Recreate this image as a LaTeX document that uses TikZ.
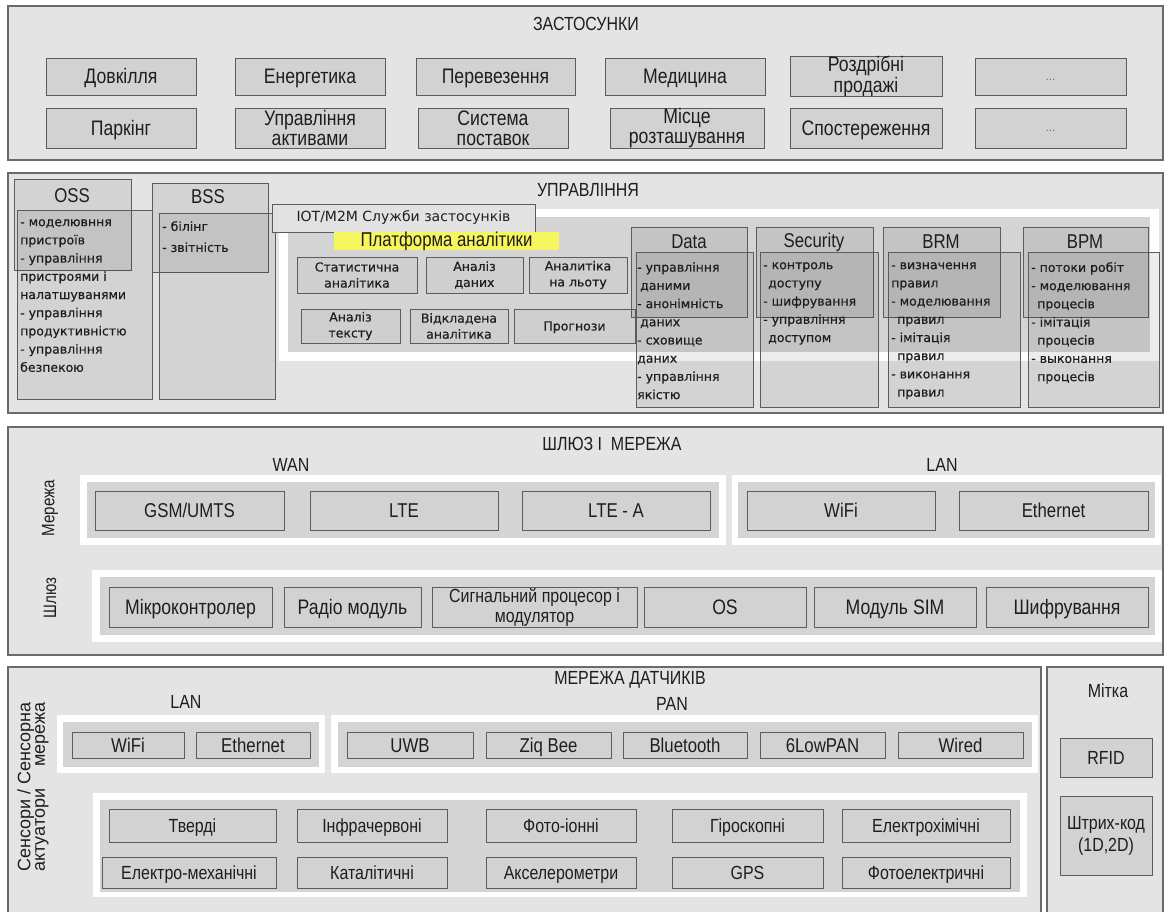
\documentclass[tikz,border=0pt]{standalone}
\usepackage{fontspec}
\setmainfont{Liberation Sans}
\newfontfamily\nrw[FakeStretch=0.84]{Liberation Sans}
\newfontfamily\vrd[FakeBold=0.5]{DejaVu Sans}
\newfontfamily\vrdr{DejaVu Sans}
\newlength\rotw

\definecolor{secbg}{HTML}{E4E4E4}
\definecolor{secln}{HTML}{6A6A6A}
\definecolor{boxbg}{HTML}{D2D2D2}
\definecolor{boxln}{HTML}{5C5C5C}
\definecolor{grpbg}{HTML}{D4D4D4}
\definecolor{anbg}{HTML}{CFCFCF}
\definecolor{iotbg}{HTML}{E2E2E2}
\definecolor{txt}{HTML}{1E1E1E}
\definecolor{dotc}{HTML}{666666}
\definecolor{hl}{HTML}{F6F65E}

\tikzset{
  section/.style={draw=secln, fill=secbg, line width=1.1pt, inner sep=0pt},
  title/.style={font=\nrw\fontsize{19}{21}\selectfont, text=txt, inner sep=0pt},
  box/.style={draw=boxln, fill=boxbg, line width=0.8pt, inner sep=0pt, align=center, text=txt},
  % multi-line labels keep their natural height
  ml/.style={text height={}, text depth={}},
  appbox/.style={box, font=\nrw\fontsize{21}{20}\selectfont, text height=15pt, text depth=0pt},
  dots/.style={box, font=\fontsize{11}{12}\selectfont, text=dotc, text height=8pt, text depth=0pt},
  grpw/.style={fill=white, inner sep=0pt},
  grpg/.style={fill=grpbg, inner sep=0pt},
  frame/.style={draw=boxln, line width=0.8pt, fill=black, fill opacity=0.075, inner sep=0pt},
  hdr/.style={font=\nrw\fontsize{20}{22}\selectfont, text=txt, inner sep=0pt},
  blk/.style={font=\vrd\fontsize{12.5}{18.2}\selectfont, text=txt, align=left, inner sep=0pt, anchor=north west},
  anbox/.style={box, fill=anbg, font=\vrd\fontsize{12.5}{16}\selectfont},
  iotbox/.style={draw=boxln, fill=iotbg, line width=0.8pt, inner sep=0pt, font=\vrdr\fontsize{14}{16}\selectfont, text=txt},
  hlbox/.style={fill=hl, inner sep=0pt, font=\nrw\fontsize{20}{22}\selectfont, text=txt},
  netbox/.style={box, font=\nrw\fontsize{20}{22}\selectfont, text height=14.3pt, text depth=0pt},
  gwbox/.style={box, font=\nrw\fontsize{21}{21}\selectfont, text height=15pt, text depth=0pt},
  pbox/.style={box, font=\nrw\fontsize{20}{20}\selectfont, text height=14.3pt, text depth=0pt},
  sbox/.style={box, font=\nrw\fontsize{19}{18}\selectfont, text height=13.6pt, text depth=0pt},
  tagbox/.style={box, font=\nrw\fontsize{19}{22}\selectfont, text height=13.6pt, text depth=0pt},
  rot/.style={rotate=90, font=\nrw\fontsize{18}{14}\selectfont, text=txt, inner sep=0pt, align=left},
  rotwide/.style={rotate=90, font=\fontsize{18}{13}\selectfont, text=txt, inner sep=0pt, align=left}
}

% \bx{style}{name}{x1}{y1}{x2}{y2}{text}: a rectangle node spanning two corners
\newcommand\bx[7]{\node[#1, minimum width={(#5)-(#3)}, minimum height={(#6)-(#4)}] (#2) at ({((#3)+(#5))/2},{((#4)+(#6))/2}) {#7};}

\begin{document}
\settowidth{\rotw}{\fontsize{18}{13}\selectfont Сенсори / Сенсорна}
\begin{tikzpicture}[x=1pt,y=-1pt]
\useasboundingbox (0,0) rectangle (1172,912);
\clip (0,0) rectangle (1172,912);
\fill[white] (0,0) rectangle (1172,912);

% ---------------- applications layer
\bx{section}{apps}{8}{6}{1163}{160}{}
\node[title] (appsT) at (586,24) {ЗАСТОСУНКИ};
\bx{appbox}{a1}{46}{58}{196}{95}{Довкілля}
\bx{appbox}{a2}{235}{58}{385}{95}{Енергетика}
\bx{appbox}{a3}{416}{58}{575}{95}{Перевезення}
\bx{appbox}{a4}{605}{58}{765}{95}{Медицина}
\bx{appbox, ml, font=\nrw\fontsize{21}{19}\selectfont}{a5}{790}{58}{942}{95}{Роздрібні\\продажі}
\bx{dots}{a6}{975}{58}{1126}{95}{...}
\bx{appbox}{a7}{46}{108}{196}{148}{Паркінг}
\bx{appbox, ml}{a8}{235}{108}{385}{148}{Управління\\активами}
\bx{appbox, ml}{a9}{418}{108}{568}{148}{Система\\поставок}
\bx{appbox, ml}{a10}{610}{108}{764}{148}{Місце\\розташування}
\bx{appbox}{a11}{790}{108}{942}{148}{Спостереження}
\bx{dots}{a12}{975}{108}{1126}{148}{...}

% ---------------- management layer
\bx{section}{mgmt}{8}{173}{1163}{413}{}
\node[title] (mgmtT) at (588,190) {УПРАВЛІННЯ};
\bx{grpw}{anW}{279}{209}{1159}{361}{}
\bx{grpg}{an}{288}{217}{1150}{352}{}

% OSS and BSS columns
\bx{frame}{ossH}{14}{179}{131}{270}{}
\bx{frame}{ossB}{17}{210}{152}{399}{}
\bx{frame}{bssH}{152}{183}{268}{272}{}
\bx{frame}{bssB}{159}{213}{275}{399}{}
\node[hdr] (ossT) at (72,196) {OSS};
\node[hdr] (bssT) at (208,197) {BSS};
\node[blk] (ossL) at (20,219) {- моделювння\\пристроїв\\- управління\\пристроями і\\налатшуванями\\- управління\\продуктивністю\\- управління\\безпекою};
\node[blk, font=\vrd\fontsize{12.5}{21}\selectfont] (bssL) at (162,221) {- білінг\\- звітність};

% analytics platform
\bx{iotbox}{iot}{272}{204}{535}{232}{IOT/M2M Служби застосунків}
\bx{hlbox}{plat}{334}{232}{559}{250}{Платформа аналітики}
\bx{anbox}{an1}{297}{257}{417}{293}{Статистична\\аналітика}
\bx{anbox}{an2}{426}{257}{523}{293}{Аналіз\\даних}
\bx{anbox}{an3}{529}{257}{627}{293}{Аналитіка\\на льоту}
\bx{anbox}{an4}{301}{309}{400}{343}{Аналіз\\тексту}
\bx{anbox}{an5}{410}{309}{508}{343}{Відкладена\\аналітика}
\bx{anbox, text height=9pt, text depth=0pt}{an6}{514}{309}{635}{343}{Прогнози}

% Data, Security, BRM, BPM columns
\bx{frame}{dataH}{631}{227}{747}{317}{}
\bx{frame}{dataB}{636}{252}{753}{407}{}
\bx{frame}{secH}{756}{227}{873}{317}{}
\bx{frame}{secB}{760}{252}{878}{407}{}
\bx{frame}{brmH}{883}{227}{1000}{317}{}
\bx{frame}{brmB}{888}{252}{1020}{407}{}
\bx{frame}{bpmH}{1023}{227}{1148}{317}{}
\bx{frame}{bpmB}{1028}{252}{1159}{407}{}
\node[hdr] (dataT) at (689,242) {Data};
\node[hdr] (secT) at (814,242) {Security};
\node[hdr] (brmT) at (941,242) {BRM};
\node[hdr] (bpmT) at (1085,242) {BPM};
\node[blk] (dataL) at (637,262) {- управління\\\hspace{3pt}даними\\- анонімність\\\hspace{3pt}даних\\- сховище\\даних\\- управління\\якістю};
\node[blk] (secL) at (763,262) {- контроль\\\hspace{5pt}доступу\\- шифрування\\- управління\\\hspace{5pt}доступом};
\node[blk] (brmL) at (891,262) {- визначення\\правил\\- моделювання\\\hspace{6pt}правил\\- імітація\\\hspace{6pt}правил\\- виконання\\\hspace{6pt}правил};
\node[blk] (bpmL) at (1031,262) {- потоки робіт\\- моделювання\\\hspace{6pt}процесів\\- імітація\\\hspace{6pt}процесів\\- выконання\\\hspace{6pt}процесів};

% ---------------- gateway and network layer
\bx{section}{gw}{8}{427}{1163}{655}{}
\node[title] (gwT) at (612,444) {ШЛЮЗ І\ \ МЕРЕЖА};
\node[title] (wanT) at (291,465) {WAN};
\node[title] (lanT) at (942,465) {LAN};
\node[rot] (netR) at (50,508) {Мережа};
\node[rot] (gwR) at (50,598) {Шлюз};
\bx{grpw}{wanW}{80}{475}{726}{545}{}
\bx{grpg}{wan}{87}{482}{719}{538}{}
\bx{grpw}{lanW}{732}{475}{1161}{545}{}
\bx{grpg}{lan}{738}{482}{1155}{538}{}
\bx{netbox}{n1}{95}{491}{284}{530}{GSM/UMTS}
\bx{netbox}{n2}{310}{491}{498}{530}{LTE}
\bx{netbox}{n3}{522}{491}{710}{530}{LTE - A}
\bx{netbox}{n4}{747}{491}{935}{530}{WiFi}
\bx{netbox}{n5}{959}{491}{1148}{530}{Ethernet}
\bx{grpw}{gwgW}{92}{570}{1162}{642}{}
\bx{grpg}{gwg}{100}{577}{1155}{635}{}
\bx{gwbox}{g1}{109}{587}{272}{627}{Мікроконтролер}
\bx{gwbox}{g2}{284}{587}{421}{627}{Радіо модуль}
\bx{gwbox, ml, font=\nrw\fontsize{19}{20}\selectfont}{g3}{432}{587}{637}{627}{Сигнальний процесор і\\модулятор}
\bx{gwbox}{g4}{644}{587}{806}{627}{OS}
\bx{gwbox}{g5}{814}{587}{976}{627}{Модуль SIM}
\bx{gwbox}{g6}{986}{587}{1148}{627}{Шифрування}

% ---------------- sensor network layer
\bx{section}{sn}{8}{667}{1041}{930}{}
\bx{section}{tag}{1047}{667}{1163}{930}{}
\node[title] (snT) at (630,680) {МЕРЕЖА ДАТЧИКІВ};
\node[title] (slanT) at (186,702) {LAN};
\node[title] (panT) at (672,704) {PAN};
\node[title] (tagT) at (1108,691) {Мітка};
\node[rotwide] (snR) at (33,787) {Сенсори / Сенсорна\\\makebox[\rotw][s]{актуатори\hfill мережа}};
\bx{grpw}{slanW}{57}{715}{325}{773}{}
\bx{grpg}{slan}{63}{722}{319}{767}{}
\bx{grpw}{panW}{331}{715}{1038}{773}{}
\bx{grpg}{pan}{338}{722}{1032}{767}{}
\bx{pbox}{p1}{72}{732}{184}{758}{WiFi}
\bx{pbox}{p2}{196}{732}{310}{758}{Ethernet}
\bx{pbox}{p3}{347}{732}{473}{758}{UWB}
\bx{pbox}{p4}{486}{732}{611}{758}{Ziq Bee}
\bx{pbox}{p5}{623}{732}{747}{758}{Bluetooth}
\bx{pbox}{p6}{760}{732}{885}{758}{6LowPAN}
\bx{pbox}{p7}{898}{732}{1023}{758}{Wired}
\bx{grpw}{sensW}{93}{793}{1027}{897}{}
\bx{grpg}{sens}{100}{800}{1020}{892}{}
\bx{sbox}{s1}{109}{809}{276}{842}{Тверді}
\bx{sbox}{s2}{297}{809}{447}{842}{Інфрачервоні}
\bx{sbox}{s3}{486}{809}{636}{842}{Фото-іонні}
\bx{sbox}{s4}{672}{809}{823}{842}{Гіроскопні}
\bx{sbox}{s5}{842}{809}{1010}{842}{Електрохімічні}
\bx{sbox}{s6}{102}{857}{276}{888}{Електро-механічні}
\bx{sbox}{s7}{297}{857}{447}{888}{Каталітичні}
\bx{sbox}{s8}{486}{857}{636}{888}{Акселерометри}
\bx{sbox}{s9}{672}{857}{823}{888}{GPS}
\bx{sbox}{s10}{842}{857}{1010}{888}{Фотоелектричні}
\bx{tagbox}{t1}{1060}{738}{1152}{777}{RFID}
\bx{tagbox, ml}{t2}{1060}{796}{1152}{875}{Штрих-код\\(1D,2D)}
\end{tikzpicture}
\end{document}
